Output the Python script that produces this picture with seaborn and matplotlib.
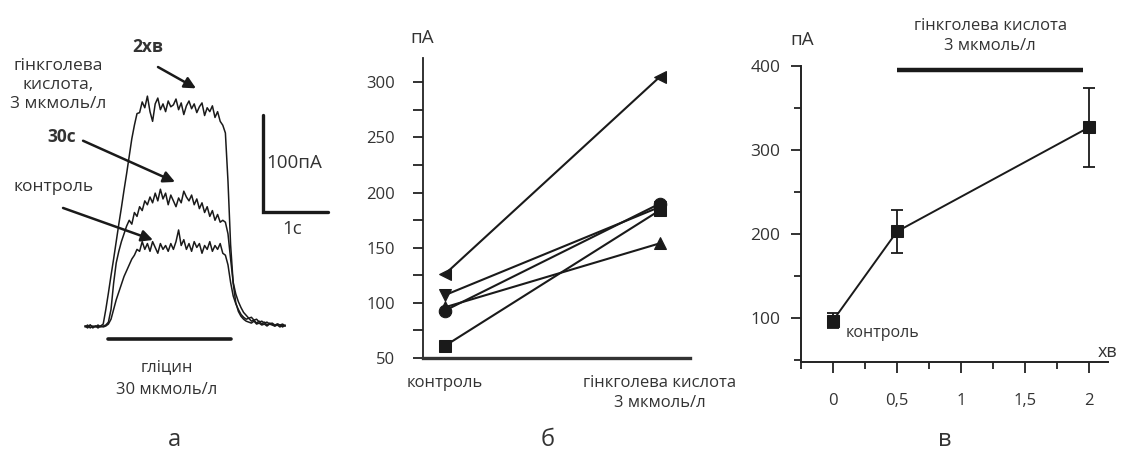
import numpy as np
import pandas as pd
import seaborn as sns
import matplotlib.pyplot as plt
from matplotlib.ticker import MultipleLocator

# а: whole-cell currents, one sample every 0.04 s
dt = 0.04
trace_names = ['2хв', '30с', 'контроль']
trace_2min = [1, -1, 2, 0, 1, -1, 1,
              3, 18, 35, 53, 70, 88, 106, 123, 141, 158, 176, 194, 208, 220, 221,
              232, 226, 238, 222, 212, 230, 236, 224, 230, 222, 233, 227, 229, 235,
              224, 231, 219, 228, 233, 225, 230, 221, 227, 231, 218, 226, 222, 228,
              216, 222, 212, 208,
              200, 150, 85, 45, 25, 16, 11, 8,
              6, 5, 4, 6, 3, 4, 2, 3, 1, 3, 2, 1, 2, 0, 2, 1]
trace_30s = [0, 2, -1, 1, 0, 2, 0, 1,
             2, 5, 18, 45, 66, 78, 88, 96, 104, 110,
             106, 118, 114, 124, 120, 130, 126, 134, 128, 138, 130, 142, 132, 138,
             126, 136, 130, 124, 133, 128, 140, 134, 130, 136, 126, 132, 122, 128,
             118, 124, 114, 120, 110, 116, 108, 110,
             108, 96, 70, 46, 34, 26, 20, 15,
             12, 9, 10, 7, 8, 5, 6, 4, 5, 3, 4, 2, 3, 2, 3, 1]
trace_ctrl = [1, 0, 2, -1, 1, 0, 1, 0,
              1, 3, 8, 18, 28, 36, 44, 52, 58, 64, 70, 74, 80,
              78, 88, 80, 86, 78, 88, 82, 76, 86, 80, 84, 78, 86, 80, 88, 100, 84,
              90, 80, 86, 78, 88, 82, 86, 76, 84, 80, 88, 78, 84, 80, 86, 76,
              74, 64, 46, 32, 24, 18, 13, 10,
              8, 9, 6, 7, 4, 6, 3, 5, 2, 4, 3, 1, 3, 2, 0, 2]

# б: paired cells
cond_labels = ['контроль', 'гінкголева кислота\n3 мкмоль/л']
cell_markers = ['<', 'v', 'o', '^', 's']
cell_control = [126, 107, 93, 96, 61]
cell_ginkgo = [305, 187, 190, 154, 184]

# в: mean +- error over time
time_min = [0, 0.5, 2]
mean_pA = [97, 203, 327]
err_pA = [9.5, 26, 47]
xtick_vals = [0, 0.5, 1, 1.5, 2]
xtick_labels = ['0', '0,5', '1', '1,5', '2']

sns.set_style('white')
plt.rcParams['font.family'] = ['Open Sans', 'DejaVu Sans']
ink = '#1a1a1a'
txt = '#333333'
W, H = 1133, 465

fig = plt.figure(figsize=(W / 100, H / 100), dpi=100)

# ---------- а ----------
ax_a = fig.add_axes([0, 0, 370 / W, 1])
t = np.arange(len(trace_2min)) * dt
df_a = pd.DataFrame({
    't': np.tile(t, 3),
    'pA': trace_2min + trace_30s + trace_ctrl,
    'trace': np.repeat(trace_names, len(t)),
})
sns.lineplot(data=df_a, x='t', y='pA', hue='trace', palette=[ink] * 3,
             estimator=None, sort=False, lw=1.1, legend=False, ax=ax_a)
ax_a.set_xlim(-1.308, 4.385)
ax_a.set_ylim(-142.3, 337.1)
ax_a.axis('off')

# scale bars 100 pA / 1 s
ax_a.plot([2.738, 2.738, 3.738], [218.6, 118.6, 118.6], color=ink, lw=2.4,
          solid_joinstyle='miter')
ax_a.text(2.79, 169, '100пА', fontsize=13.5, color=txt, ha='left', va='center')
ax_a.text(3.18, 101, '1с', fontsize=13.5, color=txt, ha='center', va='center')

# glycine application
ax_a.plot([0.354, 2.246], [-12.4, -12.4], color=ink, lw=2.6)
ax_a.text(1.26, -41, 'гліцин', fontsize=12, color=txt, ha='center', va='center')
ax_a.text(1.26, -65, '30 мкмоль/л', fontsize=12, color=txt, ha='center', va='center')

ax_a.text(0.97, 289, '2хв', fontsize=12.5, fontweight='bold', color=txt,
          ha='center', va='center')
ax_a.text(-0.415, 249, 'гінкголева\nкислота,\n3 мкмоль/л', fontsize=12.5,
          color=txt, ha='center', va='center', linespacing=1.25)
ax_a.text(-0.354, 196, '30с', fontsize=12.5, fontweight='bold', color=txt,
          ha='center', va='center')
ax_a.text(-0.49, 144, 'контроль', fontsize=12.5, color=txt, ha='center', va='center')

arrow = dict(arrowstyle='-|>', color=ink, lw=1.8, mutation_scale=17,
             shrinkA=0, shrinkB=0)
ax_a.annotate('', xy=(1.708, 246), xytext=(1.123, 268), arrowprops=arrow)
ax_a.annotate('', xy=(1.385, 149.5), xytext=(-0.03, 192), arrowprops=arrow)
ax_a.annotate('', xy=(1.046, 89.7), xytext=(-0.338, 122.7), arrowprops=arrow)

# ---------- б ----------
ax_b = fig.add_axes([423 / W, 1 - 358 / H, 267 / W, 300 / H])
rows = []
for i in range(len(cell_markers)):
    rows.append({'cell': i, 'cond': 0, 'pA': cell_control[i]})
    rows.append({'cell': i, 'cond': 1, 'pA': cell_ginkgo[i]})
df_b = pd.DataFrame(rows)
sns.lineplot(data=df_b, x='cond', y='pA', hue='cell', style='cell',
             markers=cell_markers, dashes=False, palette=[ink] * 5,
             markersize=9, markeredgecolor=ink, lw=1.5, legend=False, ax=ax_b)
ax_b.set_xlim(-0.102, 1.14)
ax_b.set_ylim(50, 322)
sns.despine(ax=ax_b)
ax_b.spines['left'].set_linewidth(1.3)
ax_b.spines['bottom'].set_linewidth(2.4)
ax_b.spines['left'].set_color('#222222')
ax_b.spines['bottom'].set_color('#333333')
ax_b.yaxis.set_major_locator(MultipleLocator(50))
ax_b.yaxis.set_minor_locator(MultipleLocator(25))
ax_b.tick_params(axis='y', which='both', left=True, direction='out', length=7,
                 width=1.3, color='#222222', pad=13, labelsize=12, labelcolor=txt)
ax_b.set_xticks([0, 1])
ax_b.set_xticklabels(cond_labels, fontsize=12, color=txt, linespacing=1.4)
ax_b.tick_params(axis='x', length=0, pad=12)
ax_b.set_xlabel('')
ax_b.set_ylabel('')
ax_b.text(-0.004, 1.067, 'пА', transform=ax_b.transAxes, fontsize=13.5,
          color=txt, ha='center', va='center')

# ---------- в ----------
ax_c = fig.add_axes([801 / W, 1 - 362 / H, 307 / W, 296 / H])
df_c = pd.DataFrame({'min': time_min, 'pA': mean_pA})
sns.lineplot(data=df_c, x='min', y='pA', marker='s', color=ink, markersize=9,
             markeredgecolor=ink, lw=1.4, ax=ax_c)
ax_c.errorbar(time_min, mean_pA, yerr=err_pA, fmt='none', ecolor=ink,
              elinewidth=1.3, capsize=4.5, capthick=1.3)
ax_c.set_xlim(-0.25, 2.148)
ax_c.set_ylim(47.6, 400)
sns.despine(ax=ax_c)
for s in ['left', 'bottom']:
    ax_c.spines[s].set_linewidth(1.4)
    ax_c.spines[s].set_color('#222222')
ax_c.set_xticks(xtick_vals)
ax_c.set_xticklabels(xtick_labels)
ax_c.set_xticks([-0.25, 0.25, 0.75, 1.25, 1.75], minor=True)
ax_c.tick_params(axis='x', which='major', bottom=True, direction='out', length=8,
                 width=1.3, color='#222222', pad=14, labelsize=12, labelcolor=txt)
ax_c.tick_params(axis='x', which='minor', bottom=True, direction='out', length=5,
                 width=1.3, color='#222222')
ax_c.yaxis.set_major_locator(MultipleLocator(100))
ax_c.yaxis.set_minor_locator(MultipleLocator(50))
ax_c.tick_params(axis='y', which='major', left=True, direction='out', length=7,
                 width=1.3, color='#222222', pad=8, labelsize=12.5, labelcolor=txt)
ax_c.tick_params(axis='y', which='minor', left=True, direction='out', length=5,
                 width=1.3, color='#222222')
ax_c.set_xlabel('')
ax_c.set_ylabel('')

ax_c.plot([0.5, 1.95], [395, 395], color=ink, lw=3.2, clip_on=False,
          solid_capstyle='butt')
ax_c.text(1.227, 436, 'гінкголева кислота\n3 мкмоль/л', fontsize=12, color=txt,
          ha='center', va='center', linespacing=1.35, clip_on=False)
ax_c.text(0.10, 82, 'контроль', fontsize=11.5, color=txt, ha='left', va='center')
ax_c.text(0.003, 1.088, 'пА', transform=ax_c.transAxes, fontsize=13.5,
          color=txt, ha='center', va='center')
ax_c.text(1.0, 0.034, 'хв', transform=ax_c.transAxes, fontsize=13,
          color=txt, ha='center', va='center')

# panel letters
for x, letter in [(174, 'а'), (548, 'б'), (945, 'в')]:
    fig.text(x / W, 1 - 440 / H, letter, fontsize=17, color=txt,
             ha='center', va='center')

fig.savefig('out.png', dpi=100, facecolor='white')
